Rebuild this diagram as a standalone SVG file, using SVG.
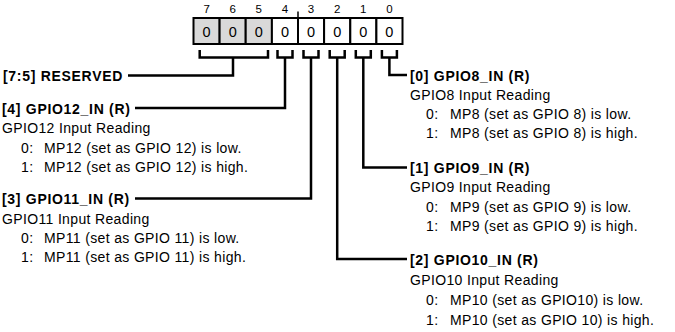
<svg xmlns="http://www.w3.org/2000/svg" width="675" height="332" viewBox="0 0 675 332">
<style>
text{font-family:"Liberation Sans",Arial,sans-serif;fill:#000}
.t{font-size:14px;letter-spacing:0.35px}
.b{font-size:14px;font-weight:bold;letter-spacing:0.7px}
.n{font-size:11.5px;text-anchor:middle}
.v{font-size:14.5px;text-anchor:middle}
.ln{fill:none;stroke:#000;stroke-width:2.5;stroke-linejoin:miter;stroke-linecap:butt}
.cell{stroke:#000;stroke-width:2}
</style>
<rect width="675" height="332" fill="#fff"/>
<g id="register">
<rect class="cell" x="193.5" y="18" width="26.1" height="26" fill="#d9d9d9"/>
<rect class="cell" x="219.6" y="18" width="26.1" height="26" fill="#d9d9d9"/>
<rect class="cell" x="245.7" y="18" width="26.2" height="26" fill="#d9d9d9"/>
<rect class="cell" x="271.9" y="18" width="26.1" height="26" fill="#fff"/>
<rect class="cell" x="298" y="18" width="26.1" height="26" fill="#fff"/>
<rect class="cell" x="324.1" y="18" width="26.2" height="26" fill="#fff"/>
<rect class="cell" x="350.3" y="18" width="26.1" height="26" fill="#fff"/>
<rect class="cell" x="376.4" y="18" width="26.1" height="26" fill="#fff"/>
<line x1="298" y1="11.5" x2="298" y2="18" stroke="#000" stroke-width="1.5"/>
<text class="n" x="206.6" y="12.5">7</text>
<text class="n" x="232.7" y="12.5">6</text>
<text class="n" x="258.8" y="12.5">5</text>
<text class="n" x="285" y="12.5">4</text>
<text class="n" x="311" y="12.5">3</text>
<text class="n" x="337.2" y="12.5">2</text>
<text class="n" x="363.3" y="12.5">1</text>
<text class="n" x="389.4" y="12.5">0</text>
<text class="v" x="206.6" y="36.5">0</text>
<text class="v" x="232.7" y="36.5">0</text>
<text class="v" x="258.8" y="36.5">0</text>
<text class="v" x="285" y="36.5">0</text>
<text class="v" x="311" y="36.5">0</text>
<text class="v" x="337.2" y="36.5">0</text>
<text class="v" x="363.3" y="36.5">0</text>
<text class="v" x="389.4" y="36.5">0</text>
</g>
<g id="connectors">
<path class="ln" d="M199.7 50V57.5H268V50M233 57.5V75.5H128"/>
<path class="ln" d="M277.5 50V57.5H292.5V50M285 57.5V108H135"/>
<path class="ln" d="M303.5 50V57.5H318.5V50M311 57.5V198.5H135"/>
<path class="ln" d="M329.7 50V57.5H344.7V50M337.2 57.5V259H407"/>
<path class="ln" d="M355.8 50V57.5H370.8V50M363.3 57.5V167.5H407"/>
<path class="ln" d="M381.9 50V57.5H396.9V50M389.4 57.5V75H407"/>
</g>
<g id="f-reserved">
<text class="b" x="3" y="80.5">[7:5] RESERVED</text>
</g>
<g id="f-gpio12">
<text class="b" x="2" y="113.5">[4] GPIO12_IN (R)</text>
<text class="t" x="2" y="133">GPIO12 Input Reading</text>
<text class="t" x="21" y="152.5">0:</text><text class="t" x="44" y="152.5">MP12 (set as GPIO 12) is low.</text>
<text class="t" x="21" y="171.5">1:</text><text class="t" x="44" y="171.5">MP12 (set as GPIO 12) is high.</text>
</g>
<g id="f-gpio11">
<text class="b" x="2" y="204">[3] GPIO11_IN (R)</text>
<text class="t" x="2" y="223.5">GPIO11 Input Reading</text>
<text class="t" x="21" y="242.5">0:</text><text class="t" x="44" y="242.5">MP11 (set as GPIO 11) is low.</text>
<text class="t" x="21" y="261.5">1:</text><text class="t" x="44" y="261.5">MP11 (set as GPIO 11) is high.</text>
</g>
<g id="f-gpio8">
<text class="b" x="410" y="80.5">[0] GPIO8_IN (R)</text>
<text class="t" x="410" y="99.5">GPIO8 Input Reading</text>
<text class="t" x="426" y="118.5">0:</text><text class="t" x="450" y="118.5">MP8 (set as GPIO 8) is low.</text>
<text class="t" x="426" y="137.5">1:</text><text class="t" x="450" y="137.5">MP8 (set as GPIO 8) is high.</text>
</g>
<g id="f-gpio9">
<text class="b" x="410" y="172.5">[1] GPIO9_IN (R)</text>
<text class="t" x="410" y="192">GPIO9 Input Reading</text>
<text class="t" x="426" y="211.5">0:</text><text class="t" x="450" y="211.5">MP9 (set as GPIO 9) is low.</text>
<text class="t" x="426" y="231">1:</text><text class="t" x="450" y="231">MP9 (set as GPIO 9) is high.</text>
</g>
<g id="f-gpio10">
<text class="b" x="410" y="264.5">[2] GPIO10_IN (R)</text>
<text class="t" x="410" y="285">GPIO10 Input Reading</text>
<text class="t" x="426" y="305">0:</text><text class="t" x="450" y="305">MP10 (set as GPIO10) is low.</text>
<text class="t" x="426" y="325">1:</text><text class="t" x="450" y="325">MP10 (set as GPIO 10) is high.</text>
</g>
</svg>
